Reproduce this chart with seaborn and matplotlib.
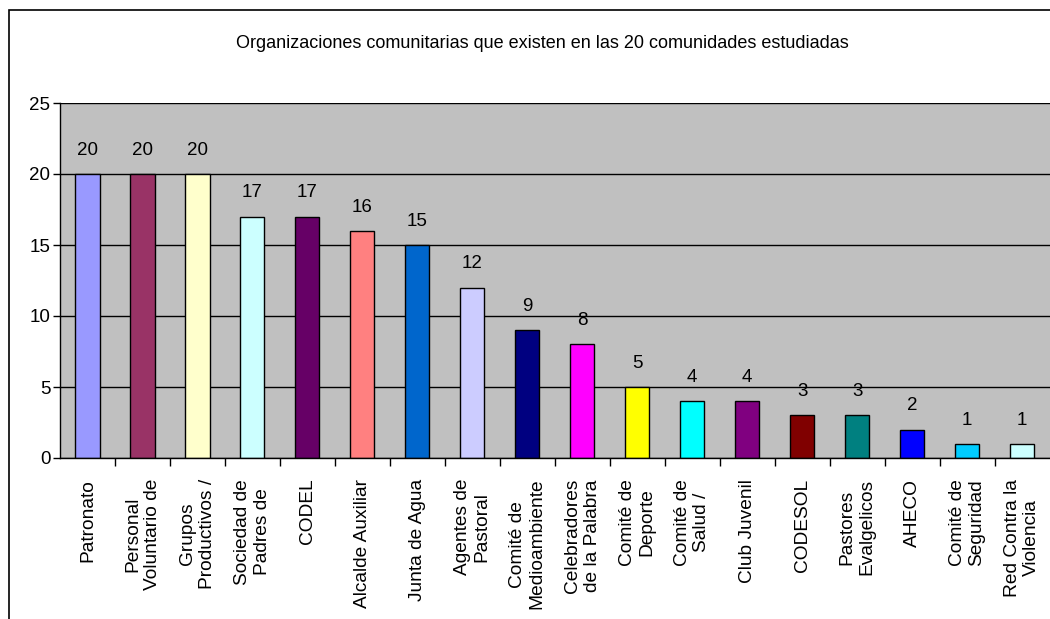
import matplotlib
matplotlib.use("Agg")
import matplotlib.pyplot as plt
import seaborn as sns
import pandas as pd
from matplotlib.patches import Rectangle

categorias = ["Patronato", "Personal\nVoluntario de", "Grupos\nProductivos /", "Sociedad de\nPadres de",
              "CODEL", "Alcalde Auxiliar", "Junta de Agua", "Agentes de\nPastoral",
              "Comité de\nMedioambiente", "Celebradores\nde la Palabra", "Comité de\nDeporte",
              "Comité de\nSalud /", "Club Juvenil", "CODESOL", "Pastores\nEvalgelicos", "AHECO",
              "Comité de\nSeguridad", "Red Contra la\nViolencia"]
valores = [20, 20, 20, 17, 17, 16, 15, 12, 9, 8, 5, 4, 4, 3, 3, 2, 1, 1]
colores = ["#9999FF", "#993366", "#FFFFCC", "#CCFFFF", "#660066", "#FF8080", "#0066CC", "#CCCCFF",
           "#000080", "#FF00FF", "#FFFF00", "#00FFFF", "#800080", "#800000", "#008080", "#0000FF",
           "#00CCFF", "#CCFFFF"]
titulo = "Organizaciones comunitarias que existen en las 20 comunidades estudiadas"

df = pd.DataFrame({"Organizacion": categorias, "Cantidad": valores})

sns.set_style("white")
plt.rcParams['font.family'] = ['Liberation Sans', 'DejaVu Sans']
plt.rcParams['text.color'] = 'black'
plt.rcParams['xtick.color'] = 'black'
plt.rcParams['ytick.color'] = 'black'

fig = plt.figure(figsize=(10.5, 6.19), dpi=100)
ax = fig.add_axes([60/1050, 1 - 458/619, (1049.5 - 60)/1050, (458 - 103)/619])

sns.barplot(data=df, x="Organizacion", y="Cantidad", hue="Organizacion", palette=colores,
            legend=False, width=0.44, edgecolor="black", linewidth=1, ax=ax, saturation=1)

ax.set_facecolor("#C0C0C0")
ax.set_ylim(0, 25)
ax.set_xlim(-0.5, len(categorias) - 0.5)
ax.set_yticks(range(0, 26, 5))
ax.yaxis.grid(True, color="black", linewidth=1)
ax.set_axisbelow(True)
for s in ["top", "right"]:
    ax.spines[s].set_visible(False)
for s in ["left", "bottom"]:
    ax.spines[s].set_color("black")
    ax.spines[s].set_linewidth(1)

ax.set_xlabel("")
ax.set_ylabel("")
ax.tick_params(axis="y", length=5, width=1, color="black", labelsize=13.5, pad=2, left=True)
ax.tick_params(axis="x", which="major", length=0, labelsize=13.8, pad=15)
ax.set_xticks([i - 0.5 for i in range(1, len(categorias))], minor=True)
ax.tick_params(axis="x", which="minor", length=6, width=1, color="black", bottom=True)
for lbl in ax.get_xticklabels():
    lbl.set_rotation(90)
    lbl.set_ha("center")
    lbl.set_va("top")
    lbl.set_multialignment("center")

for i, v in enumerate(valores):
    ax.annotate(str(v), (i, v), xytext=(0, 11), textcoords="offset points",
                ha="center", va="bottom", fontsize=13.5)

fig.text(542/1050, 1 - 44/619, titulo, ha="center", va="center", fontsize=13)
fig.patches.append(Rectangle((9/1050, -0.01), 1.1, 1 - 10/619 + 0.01, transform=fig.transFigure,
                             fill=False, edgecolor="black", linewidth=1.2, zorder=0))

fig.savefig("out.png", dpi=100)
